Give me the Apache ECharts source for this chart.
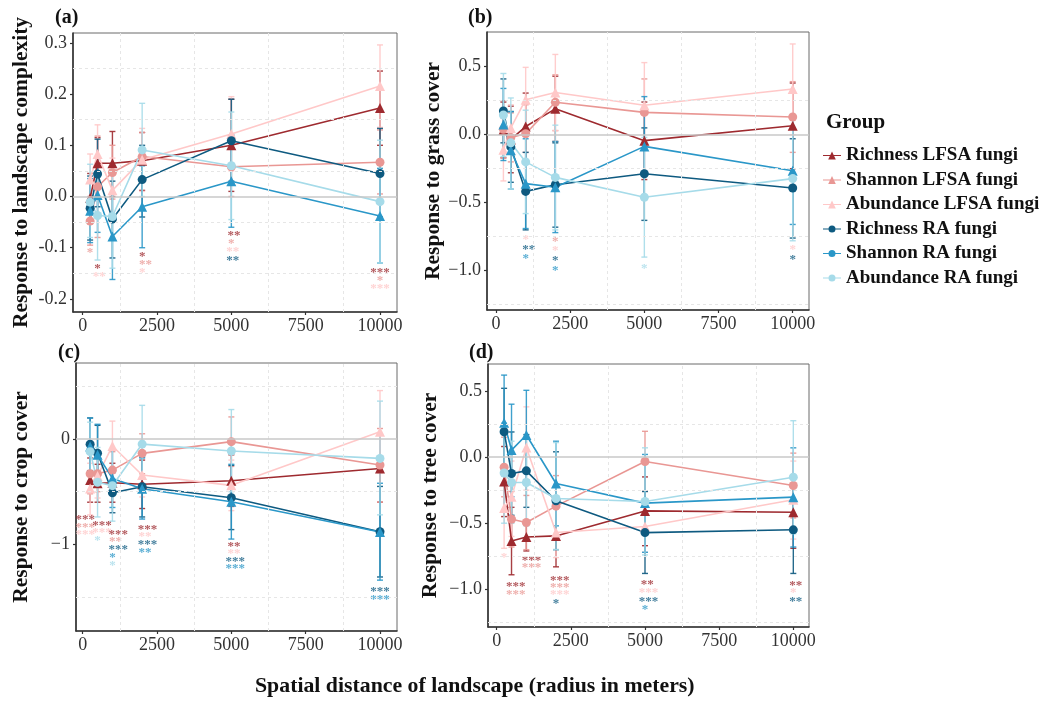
<!DOCTYPE html>
<html><head><meta charset="utf-8">
<script src="https://cdn.jsdelivr.net/npm/echarts@6/dist/echarts.min.js"></script>
<style>html,body{margin:0;padding:0;background:#fff}#c{width:1043px;height:702px}</style>
</head><body><div id="c"></div>
<script>
// ---------- shared data ----------
const xValues = [250, 500, 1000, 2000, 5000, 10000];
const groupNames = ['Richness LFSA fungi','Shannon LFSA fungi','Abundance LFSA fungi','Richness RA fungi','Shannon RA fungi','Abundance RA fungi'];
const groupColors = ['#9E2A2F','#E99794','#FFC8C8','#0E5A80','#2A97C8','#A6DBE9'];
const groupSymbols = ['triangle','circle','triangle','circle','triangle','circle'];
const legendShapes = ['triangle','triangle','triangle','circle','circle','circle'];
const xTicks = [0, 2500, 5000, 7500, 10000];
const xMinorGrid = [1250, 3750, 6250, 8750];

// ---------- panel (a): landscape complexity ----------
const aMean = [
  [-0.003, 0.065, 0.065, 0.070, 0.100, 0.173],
  [-0.048, 0.019, 0.047, 0.078, 0.058, 0.067],
  [0.033, 0.083, 0.012, 0.072, 0.122, 0.216],
  [-0.023, 0.044, -0.044, 0.033, 0.109, 0.045],
  [-0.028, 0.003, -0.078, -0.020, 0.030, -0.038],
  [-0.011, -0.037, -0.039, 0.091, 0.060, -0.010]
];
const aLower = [
  [-0.050, 0.015, 0.000, 0.012, 0.010, 0.100],
  [-0.095, -0.080, -0.005, 0.030, 0.000, 0.005],
  [-0.020, 0.025, -0.050, 0.010, 0.050, 0.135],
  [-0.085, -0.020, -0.120, -0.040, 0.030, -0.040],
  [-0.090, -0.070, -0.162, -0.100, -0.060, -0.130],
  [-0.080, -0.124, -0.140, 0.000, -0.045, -0.130]
];
const aUpper = [
  [0.045, 0.115, 0.127, 0.125, 0.190, 0.245],
  [0.000, 0.118, 0.100, 0.125, 0.120, 0.130],
  [0.083, 0.140, 0.075, 0.133, 0.195, 0.296],
  [0.040, 0.112, 0.030, 0.100, 0.190, 0.133],
  [0.035, 0.075, 0.005, 0.060, 0.120, 0.055],
  [0.063, 0.050, 0.060, 0.182, 0.165, 0.110]
];
// [x, y, number of stars, group]
const aStars = [
  [250,-0.104,1,1],
  [500,-0.135,1,0],[560,-0.150,2,2],
  [2000,-0.112,1,0],[2110,-0.127,2,1],[2000,-0.142,1,2],
  [5090,-0.070,2,0],[5000,-0.086,1,1],[5050,-0.102,2,2],[5050,-0.120,2,3],
  [10000,-0.142,3,0],[10000,-0.158,1,1],[10000,-0.174,3,2]
];
const aYTicks = [-0.2, -0.1, 0, 0.1, 0.2, 0.3];
const aYMinorGrid = [-0.15, -0.05, 0.05, 0.15, 0.25];

// ---------- panel (b): grass cover ----------
const bMean = [
  [0.035, -0.035, 0.060, 0.190, -0.044, 0.066],
  [0.040, -0.020, 0.007, 0.238, 0.164, 0.130],
  [-0.110, 0.050, 0.257, 0.310, 0.216, 0.336],
  [0.175, -0.090, -0.417, -0.368, -0.287, -0.392],
  [0.075, -0.115, -0.360, -0.387, -0.086, -0.265],
  [0.145, -0.060, -0.200, -0.314, -0.460, -0.323]
];
const bLower = [
  [-0.17, -0.28, -0.19, -0.05, -0.33, -0.25],
  [-0.17, -0.20, -0.13, 0.03, -0.08, -0.13],
  [-0.34, -0.12, 0.02, 0.03, -0.10, 0.00],
  [-0.06, -0.35, -0.70, -0.68, -0.63, -0.76],
  [-0.19, -0.40, -0.69, -0.72, -0.45, -0.66],
  [-0.16, -0.40, -0.58, -0.70, -0.90, -0.78]
];
const bUpper = [
  [0.24, 0.21, 0.306, 0.43, 0.24, 0.38],
  [0.25, 0.16, 0.22, 0.44, 0.41, 0.39],
  [0.12, 0.22, 0.495, 0.59, 0.53, 0.667],
  [0.41, 0.17, -0.13, -0.06, 0.05, -0.03],
  [0.34, 0.17, -0.03, -0.05, 0.28, 0.13],
  [0.45, 0.27, 0.18, 0.07, -0.02, 0.13]
];
const bStars = [
  [1000,-0.752,1,2],[1100,-0.820,2,3],[1000,-0.890,1,4],
  [2000,-0.765,1,1],[2000,-0.833,1,2],[2000,-0.907,1,3],[2000,-0.975,1,4],
  [5000,-0.960,1,5],
  [10000,-0.826,1,2],[10000,-0.895,1,3]
];
const bYTicks = [-1.0, -0.5, 0, 0.5];
const bYMinorGrid = [-1.25, -0.75, -0.25, 0.25];

// ---------- panel (c): crop cover ----------
const cMean = [
  [-0.390, -0.420, -0.415, -0.430, -0.396, -0.280],
  [-0.330, -0.330, -0.295, -0.136, -0.025, -0.247],
  [-0.470, -0.350, -0.066, -0.342, -0.440, 0.070],
  [-0.050, -0.135, -0.510, -0.453, -0.557, -0.880],
  [-0.070, -0.150, -0.374, -0.472, -0.595, -0.883],
  [-0.120, -0.410, -0.443, -0.048, -0.114, -0.184]
];
const cLower = [
  [-0.60, -0.60, -0.60, -0.66, -0.64, -0.60],
  [-0.52, -0.50, -0.47, -0.33, -0.26, -0.60],
  [-0.72, -0.56, -0.30, -0.55, -0.68, -0.32],
  [-0.30, -0.42, -0.70, -0.74, -0.86, -1.31],
  [-0.33, -0.45, -0.65, -0.76, -0.95, -1.34],
  [-0.40, -0.74, -0.78, -0.42, -0.50, -0.72]
];
const cUpper = [
  [-0.18, -0.24, -0.23, -0.20, -0.15, 0.04],
  [-0.14, -0.16, -0.12, 0.05, 0.21, 0.10],
  [-0.23, -0.16, 0.17, -0.13, -0.20, 0.46],
  [0.20, 0.13, -0.32, -0.17, -0.25, -0.45],
  [0.20, 0.14, -0.10, -0.18, -0.24, -0.42],
  [0.16, -0.08, -0.10, 0.32, 0.28, 0.36]
];
const cStars = [
  [90,-0.737,3,0],[90,-0.810,3,1],[90,-0.880,3,2],
  [650,-0.794,3,0],[650,-0.858,3,2],[500,-0.937,1,5],
  [1200,-0.880,3,0],[1100,-0.950,2,1],[1200,-1.022,3,3],[1000,-1.095,1,4],[1000,-1.170,1,5],
  [2180,-0.832,3,0],[2100,-0.900,2,2],[2180,-0.975,3,3],[2100,-1.047,2,4],
  [5090,-0.997,2,0],[5090,-1.060,2,2],[5130,-1.133,3,3],[5130,-1.205,3,4],
  [10000,-1.418,3,3],[10000,-1.497,3,4]
];
const cYTicks = [-1, 0];
const cYMinorGrid = [-1.5, -0.5, 0.5];

// ---------- panel (d): tree cover ----------
const dMean = [
  [-0.185, -0.634, -0.604, -0.596, -0.407, -0.417],
  [-0.077, -0.470, -0.495, -0.371, -0.033, -0.215],
  [-0.385, -0.300, 0.073, -0.570, -0.525, -0.323],
  [0.192, -0.124, -0.104, -0.330, -0.571, -0.550],
  [0.260, 0.053, 0.167, -0.200, -0.348, -0.303],
  [-0.120, -0.192, -0.192, -0.313, -0.336, -0.152]
];
const dLower = [
  [-0.45, -0.89, -0.71, -0.83, -0.67, -0.69],
  [-0.30, -0.68, -0.70, -0.60, -0.26, -0.46],
  [-0.69, -0.60, -0.25, -0.76, -0.72, -0.62],
  [-0.14, -0.44, -0.38, -0.70, -0.88, -0.88],
  [-0.10, -0.30, -0.17, -0.52, -0.72, -0.68],
  [-0.50, -0.50, -0.52, -0.70, -0.74, -0.58]
];
const dUpper = [
  [0.08, -0.38, -0.50, -0.36, -0.15, -0.15],
  [0.15, -0.26, -0.29, -0.14, 0.195, 0.03],
  [-0.08, -0.03, 0.38, -0.38, -0.33, -0.03],
  [0.52, 0.19, 0.17, 0.04, -0.26, -0.22],
  [0.62, 0.40, 0.505, 0.12, 0.02, 0.07],
  [0.26, 0.12, 0.14, 0.11, 0.07, 0.275]
];
const dStars = [
  [250,-0.740,1,2],
  [640,-0.960,3,0],[640,-1.018,3,1],
  [1170,-0.760,3,0],[1170,-0.816,3,1],
  [2130,-0.909,3,0],[2130,-0.962,3,1],[2130,-1.018,3,2],[2000,-1.088,1,3],
  [5080,-0.942,2,0],[5120,-1.000,3,2],[5120,-1.068,3,3],[5000,-1.131,1,4],
  [10080,-0.947,2,0],[10000,-1.005,1,2],[10080,-1.073,2,3]
];
const dYTicks = [-1.0, -0.5, 0, 0.5];
const dYMinorGrid = [-1.25, -0.75, -0.25, 0.25];

// ---------- layout ----------
const SERIF = '"Liberation Serif","DejaVu Serif",serif';
const panels = [
  {label:'(a)', yName:'Response to landscape complexity', mean:aMean, lo:aLower, hi:aUpper, stars:aStars, yTicks:aYTicks, yMinor:aYMinorGrid,
   grid:{left:73, top:33, width:324, height:279}, xr:[-326,10572], yr:[-0.2255,0.3193], gap:41, lab:[67,18], dec:1, minus:'-'},
  {label:'(b)', yName:'Response to grass cover', mean:bMean, lo:bLower, hi:bUpper, stars:bStars, yTicks:bYTicks, yMinor:bYMinorGrid,
   grid:{left:487, top:32, width:322, height:278}, xr:[-303,10549], yr:[-1.289,0.755], gap:41, lab:[480,18], dec:1, minus:'\u2212'},
  {label:'(c)', yName:'Response to crop cover', mean:cMean, lo:cLower, hi:cUpper, stars:cStars, yTicks:cYTicks, yMinor:cYMinorGrid,
   grid:{left:76, top:363, width:321, height:268}, xr:[-225,10572], yr:[-1.823,0.722], gap:44, lab:[70,353], dec:0, minus:'\u2212'},
  {label:'(d)', yName:'Response to tree cover', mean:dMean, lo:dLower, hi:dUpper, stars:dStars, yTicks:dYTicks, yMinor:dYMinorGrid,
   grid:{left:488, top:364, width:321, height:263}, xr:[-293,10529], yr:[-1.285,0.704], gap:47, lab:[481,353], dec:1, minus:'\u2212'}
];

function rgba(hex, a) {
  const n = parseInt(hex.slice(1), 16);
  return 'rgba(' + ((n >> 16) & 255) + ',' + ((n >> 8) & 255) + ',' + (n & 255) + ',' + a + ')';
}

const grids = [], xAxes = [], yAxes = [], series = [], graphics = [];
panels.forEach((p, pi) => {
  grids.push(Object.assign({show:true, borderColor:'#6a6a6a', borderWidth:1, backgroundColor:'#fff', containLabel:false}, p.grid));
  xAxes.push({type:'value', gridIndex:pi, min:p.xr[0], max:p.xr[1],
    axisLine:{show:true, onZero:false, lineStyle:{color:'#333', width:1.6}},
    axisTick:{show:true, length:3, lineStyle:{color:'#333', width:1.2}, customValues:xTicks},
    axisLabel:{show:true, customValues:xTicks, margin:5, fontFamily:SERIF, fontSize:18, color:'#333', formatter:v => String(v)},
    splitLine:{show:false}});
  yAxes.push({type:'value', gridIndex:pi, min:p.yr[0], max:p.yr[1],
    name:p.yName, nameLocation:'middle', nameGap:p.gap, nameRotate:90,
    nameTextStyle:{fontFamily:SERIF, fontWeight:'bold', fontSize:21.5, color:'#111'},
    axisLine:{show:true, onZero:false, lineStyle:{color:'#333', width:1.6}},
    axisTick:{show:true, length:3, lineStyle:{color:'#333', width:1.2}, customValues:p.yTicks},
    axisLabel:{show:true, customValues:p.yTicks, margin:6, fontFamily:SERIF, fontSize:18, color:'#333',
      formatter:v => { const s = Math.abs(v).toFixed(p.dec); return (v < -1e-9 ? p.minus : '') + s; }},
    splitLine:{show:false}});

  // faint dashed minor grid + grey zero line
  const ml = [];
  p.yMinor.forEach(v => ml.push({yAxis:v, lineStyle:{color:'#e6e6e6', width:1, type:[3,3]}}));
  xMinorGrid.forEach(v => ml.push({xAxis:v, lineStyle:{color:'#e6e6e6', width:1, type:[3,3]}}));
  ml.push({yAxis:0, lineStyle:{color:'#c9c9c9', width:1.6, type:'solid'}});
  series.push({type:'line', xAxisIndex:pi, yAxisIndex:pi, data:[], z:1, silent:true,
    markLine:{silent:true, symbol:['none','none'], label:{show:false}, animation:false, data:ml}});

  // error bars
  for (let g = 0; g < 6; g++) {
    const col = groupColors[g];
    series.push({type:'custom', name:'err-' + pi + '-' + g, xAxisIndex:pi, yAxisIndex:pi, z:2, silent:true,
      data:xValues.map((x, k) => [x, p.lo[g][k], p.hi[g][k]]),
      encode:{x:0, y:[1,2]},
      renderItem:(params, api) => {
        const x = api.value(0);
        const a = api.coord([x, api.value(1)]);
        const b = api.coord([x, api.value(2)]);
        const hw = 3;
        const st = {stroke:col, lineWidth:1.4, opacity:0.9};
        return {type:'group', children:[
          {type:'line', shape:{x1:a[0], y1:a[1], x2:b[0], y2:b[1]}, style:st},
          {type:'line', shape:{x1:a[0]-hw, y1:a[1], x2:a[0]+hw, y2:a[1]}, style:st},
          {type:'line', shape:{x1:b[0]-hw, y1:b[1], x2:b[0]+hw, y2:b[1]}, style:st}
        ]};
      }});
  }
  // lines + points
  for (let g = 0; g < 6; g++) {
    series.push({type:'line', name:groupNames[g], xAxisIndex:pi, yAxisIndex:pi, z:3,
      data:xValues.map((x, k) => [x, p.mean[g][k]]),
      symbol:groupSymbols[g], symbolSize:groupSymbols[g] === 'triangle' ? 10 : 9, showSymbol:true,
      lineStyle:{color:groupColors[g], width:1.6}, itemStyle:{color:groupColors[g]},
      emphasis:{disabled:true}});
  }
  // significance stars
  const stars = p.stars;
  series.push({type:'custom', name:'stars-' + pi, xAxisIndex:pi, yAxisIndex:pi, z:4, silent:true,
    data:stars.map(s => [s[0], s[1]]),
    renderItem:(params, api) => {
      const s = stars[params.dataIndex];
      const c = api.coord([s[0], s[1]]);
      return {type:'text', x:c[0], y:c[1] + 3, silent:true,
        style:{text:'*'.repeat(s[2]), fill:rgba(groupColors[s[3]], 0.78), fontFamily:SERIF, fontWeight:'bold', fontSize:13, align:'center', verticalAlign:'middle'}};
    }});

  graphics.push({type:'text', left:p.lab[0] - 12, top:p.lab[1] - 10,
    style:{text:p.label, fontFamily:SERIF, fontWeight:'bold', fontSize:20, fill:'#111'}});
});

graphics.push({type:'text', left:826, top:112, style:{text:'Group', fontFamily:SERIF, fontWeight:'bold', fontSize:21, fill:'#111'}});
graphics.push({type:'text', left:255, top:675, style:{text:'Spatial distance of landscape (radius in meters)', fontFamily:SERIF, fontWeight:'bold', fontSize:21.8, fill:'#111'}});

const TRI_ICON = 'path://M0,3.4H18V4.6H0Z M5.2,8 L9,0 L12.8,8 Z';
const CIR_ICON = 'path://M0,3.4H18V4.6H0Z M5.5,4 A3.5,3.5 0 1 1 12.5,4 A3.5,3.5 0 1 1 5.5,4 Z';

const chart = echarts.init(document.getElementById('c'), null, {renderer:'canvas'});
chart.setOption({
  animation:false,
  backgroundColor:'#fff',
  grid:grids, xAxis:xAxes, yAxis:yAxes, series:series, graphic:graphics,
  legend:{orient:'vertical', left:823, top:146, padding:0, itemWidth:18, itemHeight:8, itemGap:5.5,
    selectedMode:false,
    textStyle:{fontFamily:SERIF, fontWeight:'bold', fontSize:19, color:'#111', lineHeight:19},
    data:groupNames.map((n, i) => ({name:n, icon:legendShapes[i] === 'triangle' ? TRI_ICON : CIR_ICON}))}
});
</script></body></html>
